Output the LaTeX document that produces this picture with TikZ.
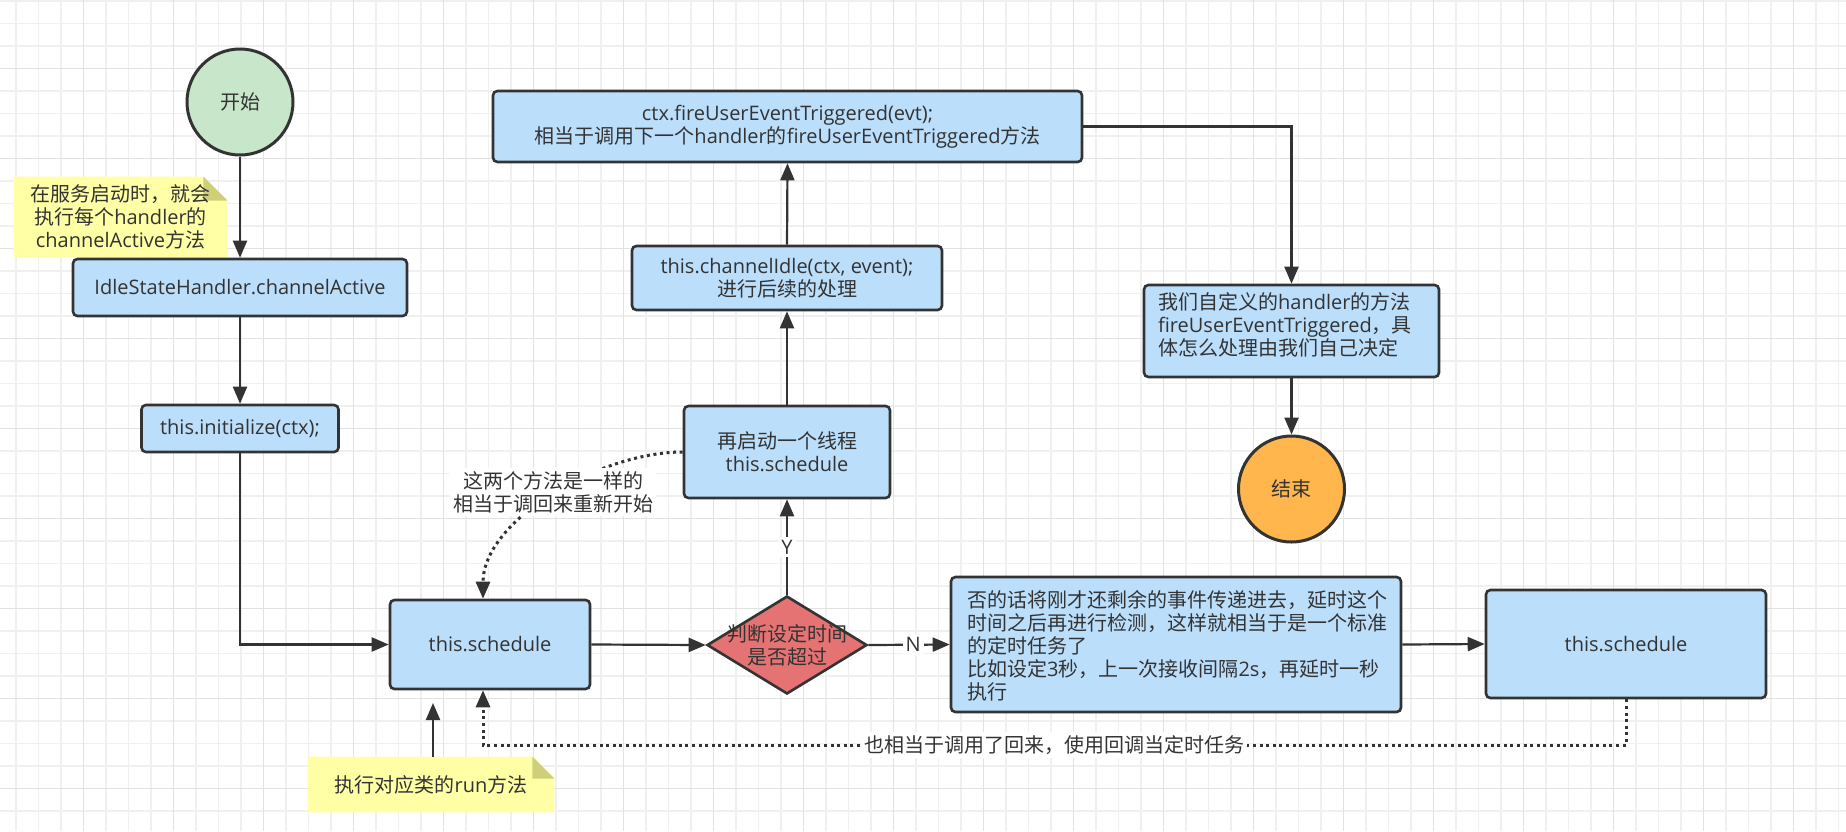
\documentclass[tikz,border=0pt]{standalone}
\usepackage{fontspec}
\setmainfont{Open Sans}
\newfontfamily\cjkfont{Noto Sans CJK SC}
\newcommand\zh[1]{{\cjkfont #1}}
\usetikzlibrary{shapes.geometric,arrows.meta,calc,backgrounds}
\definecolor{boxblue}{HTML}{BBDEFB}
\definecolor{linecol}{HTML}{333333}
\definecolor{txt}{HTML}{333333}
\definecolor{startgreen}{HTML}{C8E6C9}
\definecolor{endorange}{HTML}{FFB64D}
\definecolor{diared}{HTML}{E57373}
\definecolor{notefill}{HTML}{FFFFA6}
\definecolor{notefold}{HTML}{CFCF7A}
\definecolor{gridminor}{HTML}{F0F0F0}
\definecolor{gridmajor}{HTML}{E2E2E2}
\begin{document}
\begin{tikzpicture}[x=0.5pt,y=-0.5pt,
  every node/.style={font=\fontsize{10}{11.5}\selectfont, text=txt},
  box/.style={rectangle, rounded corners=2.2pt, draw=linecol, line width=1.3pt, fill=boxblue, inner sep=0pt, align=center},
  term/.style={circle, draw=linecol, line width=1.5pt, minimum size=53pt, inner sep=0pt},
  arr/.style={draw=linecol, line width=1.1pt, -{Triangle[length=8.5pt,width=7pt]}},
  dotarr/.style={draw=linecol, line width=1.5pt, dash pattern=on 1.5pt off 1.8pt, -{Triangle[length=8.5pt,width=7pt]}},
  lbl/.style={fill=white, inner sep=1.5pt, align=center},
  notetext/.style={align=center, inner sep=0pt},
]
\useasboundingbox (0,0) rectangle (1846,831);
\begin{scope}[on background layer]
  \fill[white] (0,0) rectangle (1846,831);
  \foreach \i in {0,...,81} \draw[gridminor, line width=0.7pt] (15.8+22.5*\i,0) -- (15.8+22.5*\i,831);
  \foreach \j in {0,...,36} \draw[gridminor, line width=0.7pt] (0,0.8+22.5*\j) -- (1846,0.8+22.5*\j);
  \foreach \i in {0,...,19} \draw[gridmajor, line width=0.7pt] (83.3+90*\i,0) -- (83.3+90*\i,831);
  \foreach \j in {0,...,8} \draw[gridmajor, line width=0.7pt] (0,68.3+90*\j) -- (1846,68.3+90*\j);
\end{scope}

% nodes
\node[term, fill=startgreen] (start) at (240,102) {\zh{开始}};
\node[box, minimum width=167pt, minimum height=28.5pt] (idle) at (240,287.5) {IdleStateHandler.channelActive};
\node[box, minimum width=98.5pt, minimum height=23.5pt] (init) at (240,428.5) {this.initialize(ctx);};
\node[box, minimum width=100pt, minimum height=44.5pt] (sched1) at (490,644.5) {this.schedule};
\node[diamond, draw=linecol, line width=1.3pt, fill=diared, minimum width=80pt, minimum height=49pt, inner sep=0pt] (dia) at (787,645) {};
\node[notetext] (diatext) at (dia.center) {\zh{判断设定时间}\\\zh{是否超过}};
\node[box, minimum width=103pt, minimum height=46pt] (yes) at (787,452) {\zh{再启动一个线程}\\this.schedule};
\node[box, minimum width=155pt, minimum height=32pt] (chidle) at (787,278) {this.channelIdle(ctx, event);\\\zh{进行后续的处理}};
\node[box, minimum width=294.5pt, minimum height=35.5pt] (ctx) at (787.5,126.5) {ctx.fireUserEventTriggered(evt);\\\zh{相当于调用下一个}handler\zh{的}fireUserEventTriggered\zh{方法}};
\node[box, minimum width=147.5pt, minimum height=46pt] (custom) at (1291.5,331) {};
\node[anchor=west, align=left, inner sep=0pt] (customtext) at ([xshift=7.5pt,yshift=3pt]custom.west) {\zh{我们自定义的}handler\zh{的方法}\\fireUserEventTriggered\zh{，具}\\\zh{体怎么处理由我们自己决定}};
\node[term, fill=endorange] (end) at (1291.5,489) {\zh{结束}};
\node[box, minimum width=225pt, minimum height=67.5pt] (nobox) at (1176,644.5) {};
\node[anchor=west, align=left, inner sep=0pt] (notext) at ([xshift=8.5pt,yshift=-0.5pt]nobox.west) {\zh{否的话将刚才还剩余的事件传递进去，延时这个}\\\zh{时间之后再进行检测，这样就相当于是一个标准}\\\zh{的定时任务了}\\\zh{比如设定}3\zh{秒，上一次接收间隔}2s\zh{，再延时一秒}\\\zh{执行}};
\node[box, minimum width=140pt, minimum height=54pt] (sched2) at (1626,644) {this.schedule};

% notes
\node[notetext, minimum width=106.5pt, minimum height=40pt] (note1) at (120.5,217) {\zh{在服务启动时，就会}\\\zh{执行每个}handler\zh{的}\\channelActive\zh{方法}};
\node[notetext, minimum width=123pt, minimum height=27.5pt] (note2) at (431,784.5) {\zh{执行对应类的}run\zh{方法}};
\begin{scope}[on background layer]
  \foreach \n/\f in {note1/12pt, note2/11pt}{
    \fill[notefill] (\n.south west) -- (\n.north west) -- ([xshift=-\f]\n.north east) -- ([yshift=-\f]\n.north east) -- (\n.south east) -- cycle;
    \fill[notefold] ([xshift=-\f]\n.north east) -- ([xshift=-\f,yshift=-\f]\n.north east) -- ([yshift=-\f]\n.north east) -- cycle;
  }
\end{scope}

% connectors
\draw[arr] (start) -- (idle);
\draw[arr] (idle) -- (init);
\draw[arr] (init.south) |- (sched1.west);
\draw[arr] (sched1.east) -- (dia.west);
\draw[arr] (dia.east) -- node[lbl, pos=0.55] {N} (nobox.west);
\draw[arr] (nobox.east) -- (sched2.west);
\draw[arr] (dia.north) -- node[lbl] {Y} (yes.south);
\draw[arr] (yes.north) -- (chidle.south);
\draw[arr] (chidle.north) -- (ctx.south);
\draw[arr] (ctx.east) -| (custom.north);
\draw[arr] (custom.south) -- (end.north);

\coordinate (runtip) at (433,703);
\draw[arr] (runtip |- note2.north) -- (runtip);

\coordinate (retline) at (1054,745);
\draw[dotarr] (sched2.south) |- (retline) -| ([xshift=-3.5pt]sched1.south);
\node[lbl] (retlabel) at (retline) {\zh{也相当于调用了回来，使用回调当定时任务}};

\draw[dotarr] (yes.west) .. controls (600,452) and (483,520) .. ([xshift=-3.5pt]sched1.north);
\node[lbl] (curvelabel) at (553,492) {\zh{这两个方法是一样的}\\\zh{相当于调回来重新开始}};
\end{tikzpicture}
\end{document}
